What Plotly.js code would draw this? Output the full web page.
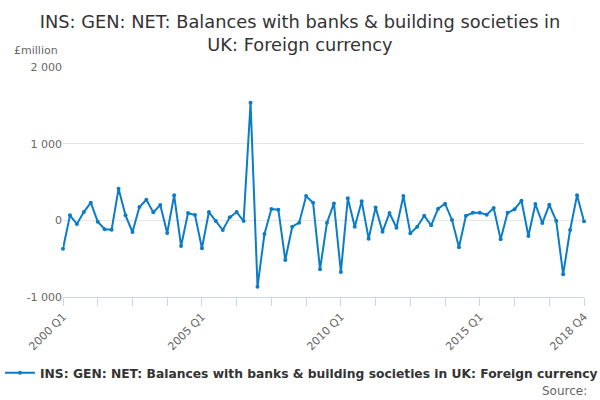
<!DOCTYPE html>
<html>
<head>
<meta charset="utf-8">
<script src="https://cdn.plot.ly/plotly-3.0.1.min.js"></script>
<style>
  html, body { margin: 0; padding: 0; background: #fff; }
  #chart { width: 600px; height: 400px; }
</style>
</head>
<body>
<div id="chart"></div>
<script>
const seriesName = "INS: GEN: NET: Balances with banks & building societies in UK: Foreign currency";

const years = [2000, 2001, 2002, 2003, 2004, 2005, 2006, 2007, 2008, 2009,
  2010, 2011, 2012, 2013, 2014, 2015, 2016, 2017, 2018];

// quarter labels, 2000 Q1 .. 2018 Q4
const quarters = [];
years.forEach(y => ["Q1", "Q2", "Q3", "Q4"].forEach(q => quarters.push(y + " " + q)));

// £million
const balances = [
  -370, 65, -48, 108, 230, -18, -117, -122,
  413, 65, -152, 173, 269, 104, 200, -165,
  326, -335, 95, 69, -365, 108, -9, -126,
  39, 108, -9, 1533, -866, -179, 147, 139,
  -518, -83, -31, 317, 230, -639, -31, 221,
  -674, 287, -83, 248, -239, 169, -148, 95,
  -96, 317, -170, -83, 60, -65, 152, 217,
  5, -352, 60, 99, 99, 73, 160, -248,
  99, 143, 256, -205, 212, -35, 203, -5,
  -704, -126, 326, -13
];

const tickLabels = ["2000 Q1", "2005 Q1", "2010 Q1", "2015 Q1", "2018 Q4"];
const yTicks = [-1000, 0, 1000, 2000];
const yTickText = ["-1 000", "0", "1 000", "2 000"];

// a tick every fifth quarter, text only on the labelled ones
const tickVals = quarters.filter((q, i) => i % 5 === 0);
const tickText = tickVals.map(q => tickLabels.includes(q) ? q : "");

const font = "'DejaVu Sans', sans-serif";
const blue = "#0b7dc6";

Plotly.newPlot("chart", [{
  x: quarters,
  y: balances,
  name: seriesName,
  type: "scatter",
  mode: "lines+markers",
  cliponaxis: false,
  line: { color: blue, width: 2 },
  marker: { color: blue, size: 4 }
}], {
  width: 600,
  height: 400,
  margin: { l: 63, r: 16, t: 67, b: 103 },
  paper_bgcolor: "#fff",
  plot_bgcolor: "#fff",
  font: { family: font, color: "#666", size: 11 },
  title: {
    text: "INS: GEN: NET: Balances with banks & building societies in<br>UK: Foreign currency",
    font: { family: font, size: 17.8, color: "#333" },
    x: 0.5, xanchor: "center", y: 0.93, yanchor: "top"
  },
  xaxis: {
    type: "category",
    automargin: false,
    tickmode: "array",
    tickvals: tickVals,
    ticktext: tickText,
    tickangle: -45,
    ticks: "outside",
    ticklen: 8,
    tickcolor: "#ccd6eb",
    showline: true,
    linecolor: "#ccd6eb",
    showgrid: false,
    zeroline: false,
    range: [0, quarters.length - 1],
    tickfont: { size: 11, color: "#666" }
  },
  yaxis: {
    automargin: false,
    range: [-1000, 2000],
    tickmode: "array",
    tickvals: yTicks,
    ticktext: yTickText,
    gridcolor: "#e6e6e6",
    zeroline: false,
    showline: false,
    ticks: "",
    tickfont: { size: 11, color: "#666" }
  },
  showlegend: true,
  legend: {
    orientation: "h",
    xref: "container", yref: "container",
    x: -0.027, xanchor: "left",
    y: 0.068, yanchor: "middle",
    itemwidth: 30,
    font: { family: font, size: 12.3, color: "#333", weight: "bold" }
  },
  annotations: [
    {
      text: "£million", xref: "paper", yref: "paper",
      x: -0.098, y: 1.07, xanchor: "left", yanchor: "middle",
      showarrow: false, font: { size: 11, color: "#666" }
    },
    {
      text: "Source:", xref: "paper", yref: "paper",
      x: 1.01, y: -0.41, xanchor: "right", yanchor: "middle",
      showarrow: false, font: { size: 12, color: "#666" }
    }
  ]
}, { displayModeBar: false });
</script>
</body>
</html>
